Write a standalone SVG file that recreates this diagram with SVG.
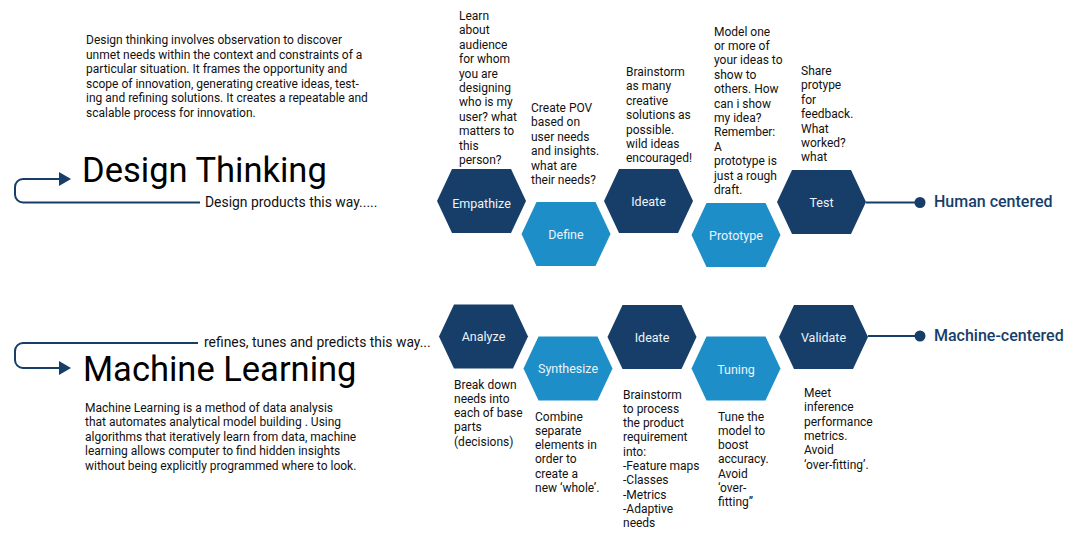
<svg xmlns="http://www.w3.org/2000/svg" width="1080" height="542" viewBox="0 0 1080 542">
<style>
text{font-family:Roboto,"Liberation Sans",sans-serif;}
.p{font-size:12px;fill:#111;}
.d{font-size:12px;fill:#111;}
.title{font-size:34.5px;fill:#000;}
.sub{font-size:13.9px;fill:#111;}
.lbl{font-size:12.5px;fill:#eef3f8;text-anchor:middle;}
.dark{fill:#173e68;}
.light{fill:#1e8ec8;}
.conn{stroke:#173e68;stroke-width:2;fill:none;}
.cat{font-size:16px;font-weight:500;fill:#173e68;}
</style>
<defs>
<polygon id="hex" points="-44.5,0 -29.5,-32 29.5,-32 44.5,0 29.5,32 -29.5,32"/>
</defs>
<rect width="1080" height="542" fill="#fff"/>

<g id="intro-design">
<text class="p" x="86" y="44">Design thinking involves observation to discover</text>
<text class="p" x="86" y="58.5">unmet needs within the context and constraints of a</text>
<text class="p" x="86" y="73">particular situation. It frames the opportunity and</text>
<text class="p" x="86" y="87.5">scope of innovation, generating creative ideas, test-</text>
<text class="p" x="86" y="102">ing and refining solutions. It creates a repeatable and</text>
<text class="p" x="86" y="116.5">scalable process for innovation.</text>
</g>
<g id="title-design">
<text class="title" x="82" y="182">Design Thinking</text>
<text class="sub" x="205" y="207">Design products this way.....</text>
</g>
<g id="title-ml">
<text class="sub" x="204" y="347">refines, tunes and predicts this way...</text>
<text class="title" x="83" y="381">Machine Learning</text>
</g>
<g id="intro-ml">
<text class="p" x="85" y="411.5">Machine Learning is a method of data analysis</text>
<text class="p" x="85" y="426">that automates analytical model building . Using</text>
<text class="p" x="85" y="440.5">algorithms that iteratively learn from data, machine</text>
<text class="p" x="85" y="455">learning allows computer to find hidden insights</text>
<text class="p" x="85" y="469.5">without being explicitly programmed where to look.</text>
</g>

<g id="connectors">
<path class="conn" d="M200,202.5 H23 A8,8 0 0 1 15,194.5 V187 A8,8 0 0 1 23,179 H61"/>
<polygon class="dark" points="59,172 71,179 59,186"/>
<path class="conn" d="M198,343 H23 A8,8 0 0 0 15,351 V360 A8,8 0 0 0 23,368 H61"/>
<polygon class="dark" points="59,361 71,368 59,375"/>
<line class="conn" x1="866" y1="202.5" x2="920" y2="202.5"/>
<circle class="dark" cx="920" cy="202.5" r="5.5"/>
<line class="conn" x1="868" y1="336" x2="920" y2="336"/>
<circle class="dark" cx="920" cy="336" r="5.5"/>
</g>

<g id="empathize">
<use href="#hex" class="dark" x="481.5" y="201"/>
<text class="lbl" x="481.5" y="207.5">Empathize</text>
<text class="d" x="459"><tspan x="459" y="20">Learn</tspan><tspan x="459" y="34.4">about</tspan><tspan x="459" y="48.8">audience</tspan><tspan x="459" y="63.2">for whom</tspan><tspan x="459" y="77.6">you are</tspan><tspan x="459" y="92">designing</tspan><tspan x="459" y="106.4">who is my</tspan><tspan x="459" y="120.8">user? what</tspan><tspan x="459" y="135.2">matters to</tspan><tspan x="459" y="149.6">this</tspan><tspan x="459" y="164">person?</tspan></text>
</g>
<g id="define">
<use href="#hex" class="light" x="566" y="234"/>
<text class="lbl" x="566" y="238.5">Define</text>
<text class="d"><tspan x="531" y="112">Create POV</tspan><tspan x="531" y="126.4">based on</tspan><tspan x="531" y="140.8">user needs</tspan><tspan x="531" y="155.2">and insights.</tspan><tspan x="531" y="169.6">what are</tspan><tspan x="531" y="184">their needs?</tspan></text>
</g>
<g id="ideate-top">
<use href="#hex" class="dark" x="648.5" y="201"/>
<text class="lbl" x="648.5" y="205.5">Ideate</text>
<text class="d"><tspan x="626" y="76">Brainstorm</tspan><tspan x="626" y="90.4">as many</tspan><tspan x="626" y="104.8">creative</tspan><tspan x="626" y="119.2">solutions as</tspan><tspan x="626" y="133.6">possible.</tspan><tspan x="626" y="148">wild ideas</tspan><tspan x="626" y="162.4">encouraged!</tspan></text>
</g>
<g id="prototype">
<use href="#hex" class="light" x="736" y="235"/>
<text class="lbl" x="736" y="239.5">Prototype</text>
<text class="d"><tspan x="714" y="35.5">Model one</tspan><tspan x="714" y="49.9">or more of</tspan><tspan x="714" y="64.3">your ideas to</tspan><tspan x="714" y="78.7">show to</tspan><tspan x="714" y="93.1">others. How</tspan><tspan x="714" y="107.5">can i show</tspan><tspan x="714" y="121.9">my idea?</tspan><tspan x="714" y="136.3">Remember:</tspan><tspan x="714" y="150.7">A</tspan><tspan x="714" y="165.1">prototype is</tspan><tspan x="714" y="179.5">just a rough</tspan><tspan x="714" y="193.9">draft.</tspan></text>
</g>
<g id="test">
<use href="#hex" class="dark" x="821.5" y="202"/>
<text class="lbl" x="821.5" y="206.5">Test</text>
<text class="d"><tspan x="801" y="75">Share</tspan><tspan x="801" y="89.4">protype</tspan><tspan x="801" y="103.8">for</tspan><tspan x="801" y="118.2">feedback.</tspan><tspan x="801" y="132.6">What</tspan><tspan x="801" y="147">worked?</tspan><tspan x="801" y="161.4">what</tspan></text>
</g>
<g id="human-centered">
<text class="cat" x="934" y="207">Human centered</text>
</g>

<g id="analyze">
<use href="#hex" class="dark" x="483.5" y="336.5"/>
<text class="lbl" x="483.5" y="341">Analyze</text>
<text class="d"><tspan x="454" y="388.5">Break down</tspan><tspan x="454" y="402.8">needs into</tspan><tspan x="454" y="417.1">each of base</tspan><tspan x="454" y="431.4">parts</tspan><tspan x="454" y="445.7">(decisions)</tspan></text>
</g>
<g id="synthesize">
<use href="#hex" class="light" x="568" y="368.5"/>
<text class="lbl" x="568" y="373">Synthesize</text>
<text class="d"><tspan x="535" y="420.5">Combine</tspan><tspan x="535" y="434.8">separate</tspan><tspan x="535" y="449.1">elements in</tspan><tspan x="535" y="463.4">order to</tspan><tspan x="535" y="477.7">create a</tspan><tspan x="535" y="492">new ‘whole’.</tspan></text>
</g>
<g id="ideate-bottom">
<use href="#hex" class="dark" x="652" y="337"/>
<text class="lbl" x="652" y="341.5">Ideate</text>
<text class="d"><tspan x="623" y="398.5">Brainstorm</tspan><tspan x="623" y="412.8">to process</tspan><tspan x="623" y="427.1">the product</tspan><tspan x="623" y="441.4">requirement</tspan><tspan x="623" y="455.7">into:</tspan><tspan x="623" y="470">-Feature maps</tspan><tspan x="623" y="484.3">-Classes</tspan><tspan x="623" y="498.6">-Metrics</tspan><tspan x="623" y="512.9">-Adaptive</tspan><tspan x="623" y="527.2">needs</tspan></text>
</g>
<g id="tuning">
<use href="#hex" class="light" x="736" y="368.5"/>
<text class="lbl" x="736" y="374">Tuning</text>
<text class="d"><tspan x="718" y="420.5">Tune the</tspan><tspan x="718" y="434.8">model to</tspan><tspan x="718" y="449.1">boost</tspan><tspan x="718" y="463.4">accuracy.</tspan><tspan x="718" y="477.7">Avoid</tspan><tspan x="718" y="492">‘over-</tspan><tspan x="718" y="506.3">fitting”</tspan></text>
</g>
<g id="validate">
<use href="#hex" class="dark" x="823.5" y="337"/>
<text class="lbl" x="823.5" y="341.5">Validate</text>
<text class="d"><tspan x="804" y="397">Meet</tspan><tspan x="804" y="411.3">inference</tspan><tspan x="804" y="425.6">performance</tspan><tspan x="804" y="439.9">metrics.</tspan><tspan x="804" y="454.2">Avoid</tspan><tspan x="804" y="468.5">‘over-fitting’.</tspan></text>
</g>
<g id="machine-centered">
<text class="cat" x="934" y="341">Machine-centered</text>
</g>
</svg>
